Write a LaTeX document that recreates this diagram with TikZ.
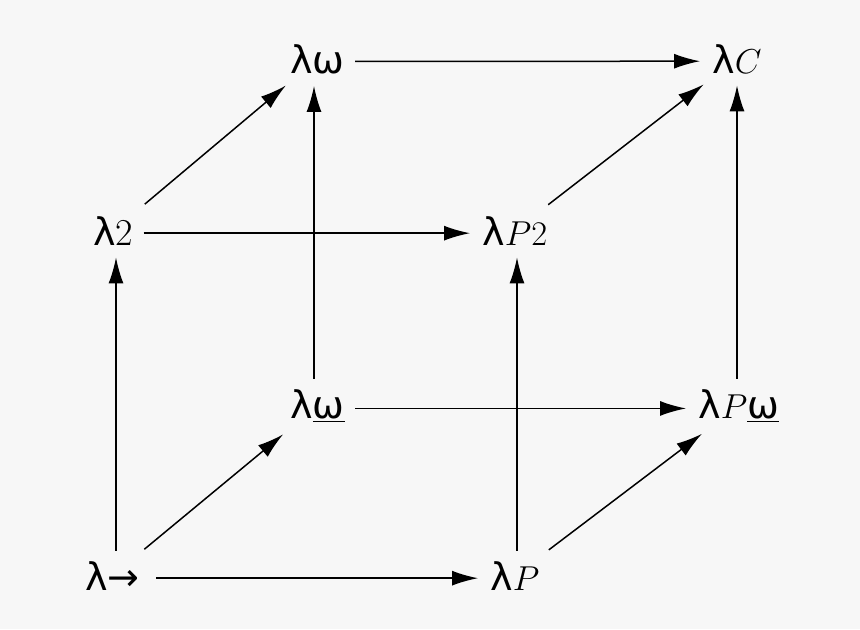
\documentclass[tikz,border=0pt]{standalone}
\usepackage{fontspec}
\usetikzlibrary{arrows.meta}
\newfontfamily\dejavu{DejaVu Sans}
\definecolor{bgc}{HTML}{F7F7F7}
\newcommand{\lam}{{\dejavu λ}}
\newcommand{\om}{{\dejavu ω}}
\newcommand{\omu}{\underline{\dejavu ω}}
\begin{document}
\begin{tikzpicture}[x=0.5pt,y=-0.5pt,
  lbl/.style={anchor=base west,inner sep=0pt,font=\fontsize{19}{23}\selectfont},
  arr/.style={-{Latex[length=13pt,width=7.5pt]},line width=0.75pt,shorten <=5pt,shorten >=6pt},
  horiz/.style={arr,transform canvas={yshift=-1.3pt}},
  diag/.style={arr,shorten <=9pt,shorten >=9pt}]
\fill[bgc] (0,0) rectangle (860,629);
\useasboundingbox (0,0) rectangle (860,629);
\node[lbl] (a) at (85,590) {\lam{\dejavu →}};
\node[lbl] (b) at (490,590) {\lam$P$};
\node[lbl] (c) at (290,418) {\lam\omu};
\node[lbl] (d) at (698,418) {\lam$P$\omu};
\node[lbl] (e) at (93,245) {\lam2};
\node[lbl] (f) at (482,245) {\lam$P2$};
\node[lbl] (g) at (290,73) {\lam\om};
\node[lbl] (h) at (712,73) {\lam$C$};
\draw[horiz,shorten <=8pt] (a) -- (b);
\draw[arr] (a.north -| 116,0) -- (e.south -| 116,0);
\draw[diag] (a) -- (c);
\draw[arr] (b.north -| 517,0) -- (f.south -| 517,0);
\draw[diag] (b) -- (d);
\draw[horiz] (c) -- (d);
\draw[arr] (c.north -| 314,0) -- (g.south -| 314,0);
\draw[arr] (d.north -| 737,0) -- (h.south -| 737,0);
\draw[horiz] (e) -- (f);
\draw[diag] (e) -- (g);
\draw[diag] (f) -- (h);
\draw[horiz] (g) -- (h);
\end{tikzpicture}
\end{document}
